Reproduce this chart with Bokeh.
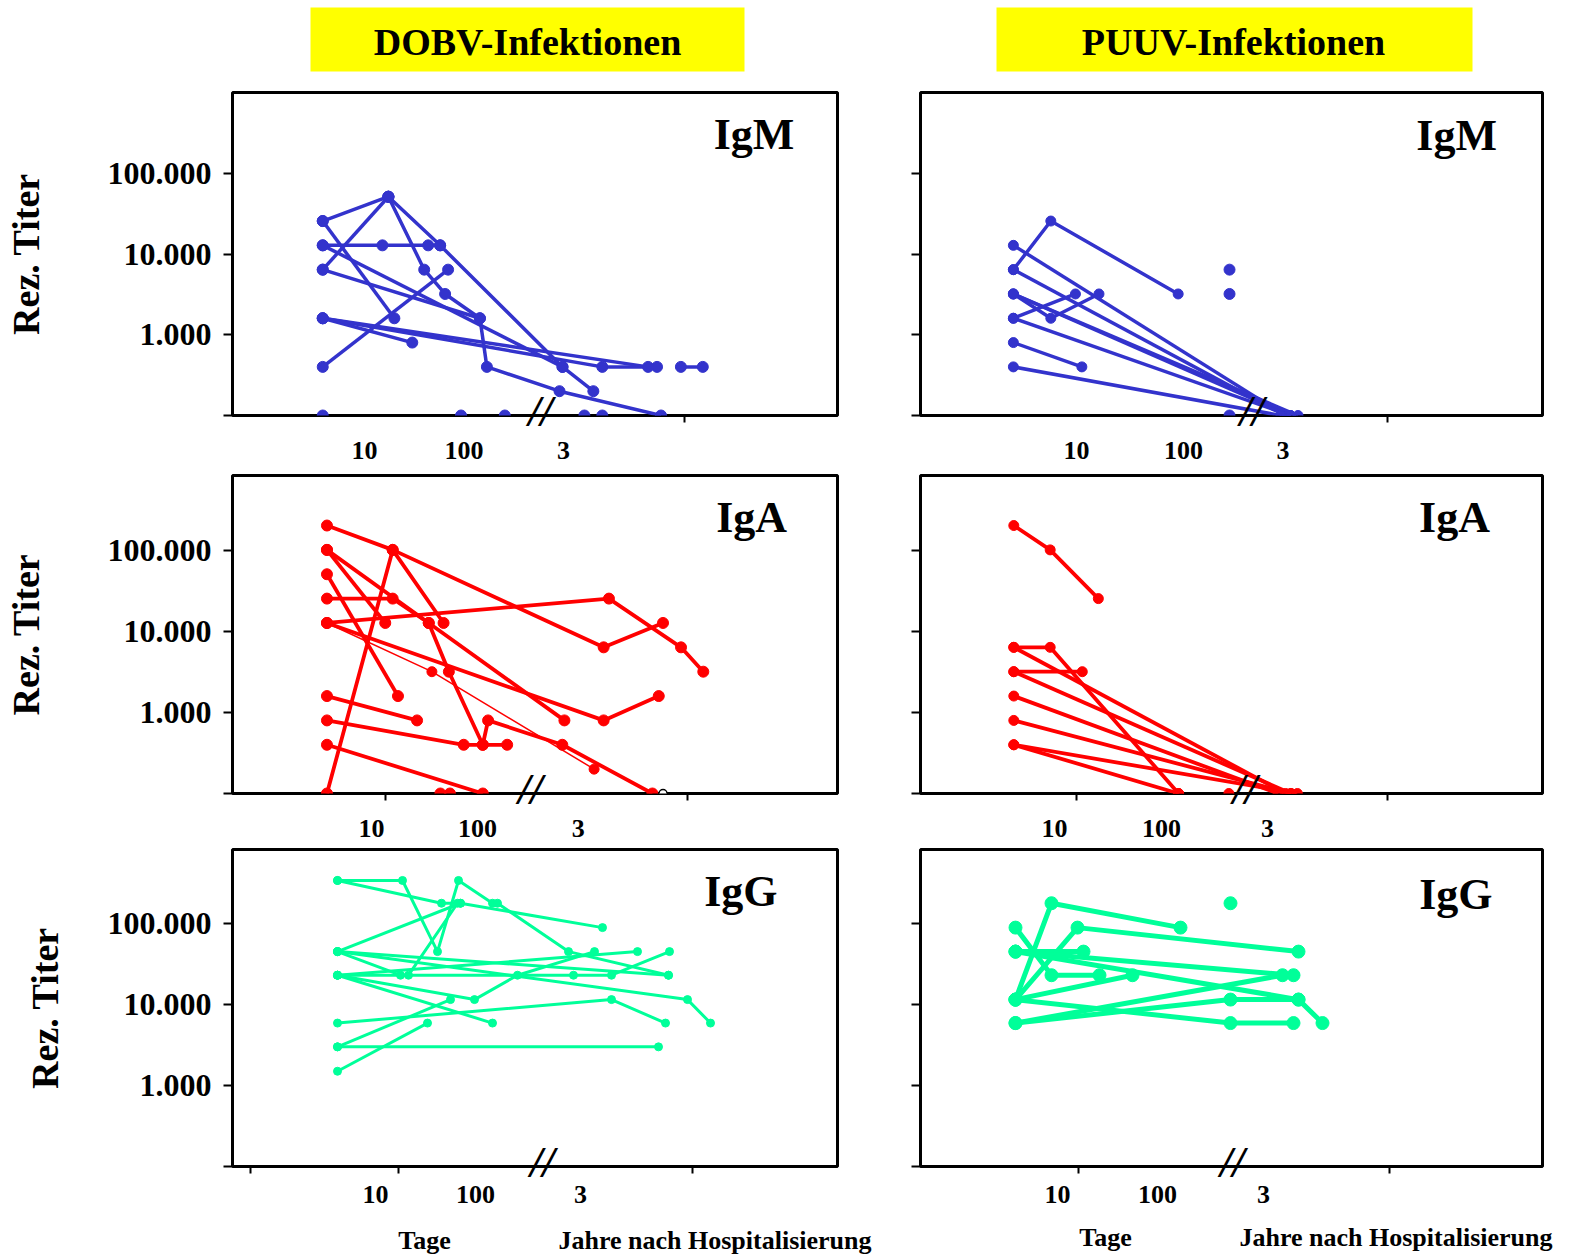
from bokeh.plotting import figure
from bokeh.models import Range1d, FixedTicker, Label, LinearAxis
from bokeh.layouts import column, row
from bokeh.embed import file_html
from bokeh.resources import INLINE
from bokeh.core.properties import value

FONT = "Liberation Serif"
BLUE = "#3333CC"
RED = "#FF0000"
GREEN = "#00FF99"

# ---------------- data (x: time-axis position, 10 d = 1, 100 d = 2, "3" Jahre ~ 3) ----------------
titles = ["DOBV-Infektionen", "PUUV-Infektionen"]
x_tick_labels = ["10", "100", "3"]
y_tick_values = [100, 1000, 10000, 100000]
y_tick_labels = ["", "1.000", "10.000", "100.000"]
footer_labels = ["Tage", "Jahre nach Hospitalisierung"]

dobv_igm_x = [
    [0.58, 1.24], [0.58, 1.30], [0.58, 1.18, 1.64, 1.76], [0.58, 2.99],
    [0.58, 1.24], [0.58, 2.16], [0.58, 1.48], [0.58, 3.39, 3.94], [0.58, 3.85],
    [0.58, 1.84], [1.24, 1.60, 1.81, 2.16, 2.23, 2.96, 3.98],
    [1.24, 1.76, 2.99, 3.30], [4.18, 4.40],
]
dobv_igm_y = [
    [25600, 51200], [25600, 1600], [12800, 12800, 12800, 12800], [12800, 400],
    [6400, 51200], [6400, 1600], [1600, 800], [1600, 400, 400], [1600, 400],
    [400, 6400], [51200, 6400, 3200, 1600, 400, 200, 100],
    [51200, 12800, 400, 200], [400, 400],
]
dobv_igm_neg_x = [0.58, 1.97, 2.41, 3.21, 3.39]
dobv_igm_neg_y = [100, 100, 100, 100, 100]

puuv_igm_x = [
    [0.41, 0.76, 1.95], [0.41, 2.95], [0.41, 2.95], [0.41, 0.76, 1.21],
    [0.41, 3.00], [0.41, 3.07], [0.41, 0.99], [0.41, 3.00], [0.41, 1.05], [0.41, 2.91],
]
puuv_igm_y = [
    [6400, 25600, 3200], [12800, 100], [6400, 100], [3200, 1600, 3200],
    [3200, 100], [3200, 100], [1600, 3200], [1600, 100], [800, 400], [400, 100],
]
puuv_igm_single_x = [2.43, 2.43, 2.43]
puuv_igm_single_y = [6400, 3200, 100]

dobv_iga_x = [
    [0.58, 1.20, 3.19, 3.75], [0.58, 3.24, 3.92, 4.13], [0.58, 1.20, 1.68],
    [0.58, 1.13], [0.58, 1.54, 1.73, 2.05, 2.10, 2.80, 3.65],
    [0.58, 1.20, 1.54, 2.82], [0.58, 1.25], [0.58, 3.19, 3.71], [0.58, 1.43],
    [0.58, 1.87, 2.05, 2.28], [0.58, 2.05],
]
dobv_iga_y = [
    [204800, 102400, 6400, 12800], [12800, 25600, 6400, 3200], [100, 102400, 12800],
    [102400, 12800], [102400, 12800, 3200, 400, 800, 400, 100],
    [25600, 25600, 12800, 800], [51200, 1600], [12800, 800, 1600], [1600, 800],
    [800, 400, 400, 400], [400, 100],
]
dobv_iga_thin_x = [0.58, 1.57, 3.10]
dobv_iga_thin_y = [12800, 3200, 200]
dobv_iga_neg_x = [1.65, 1.74]
dobv_iga_neg_y = [100, 100]
dobv_iga_open_x = [3.75]
dobv_iga_open_y = [100]

puuv_iga_x = [
    [0.62, 0.96, 1.41], [0.62, 0.96, 2.16], [0.62, 3.16], [0.62, 1.26],
    [0.62, 3.21], [0.62, 3.09], [0.62, 3.21], [0.62, 2.16], [0.62, 3.27],
]
puuv_iga_y = [
    [204800, 102400, 25600], [6400, 6400, 100], [6400, 100], [3200, 3200],
    [3200, 100], [1600, 100], [800, 100], [400, 100], [400, 100],
]
puuv_iga_single_x = [2.63]
puuv_iga_single_y = [100]

dobv_igg_x = [
    [0.62, 1.27, 1.62, 1.83, 2.17, 2.22, 2.93, 3.93], [0.62, 1.66, 1.85, 3.27],
    [0.62, 1.85], [0.62, 1.25, 1.33, 1.82], [0.62, 3.93], [0.62, 4.12, 4.35],
    [0.62, 2.98, 3.36, 3.94], [0.62, 3.62], [0.62, 1.99, 2.42, 3.19],
    [0.62, 2.17], [0.62, 3.36, 3.90], [0.62, 1.75], [0.62, 3.83], [0.62, 1.52],
]
dobv_igg_y = [
    [340000, 340000, 45000, 340000, 178000, 178000, 45000, 23000],
    [340000, 178000, 178000, 89000], [45000, 178000], [45000, 23000, 23000, 178000],
    [45000, 23000], [45000, 11500, 5900], [23000, 23000, 23000, 45000],
    [23000, 45000], [23000, 11500, 23000, 45000], [23000, 5900],
    [5900, 11500, 5900], [3000, 11500], [3000, 3000], [1500, 5900],
]

puuv_igg_x = [
    [0.58, 0.94, 2.23], [0.58, 0.94, 1.42], [0.58, 1.20, 3.41], [0.58, 1.26],
    [0.58, 3.36], [0.58, 3.41, 3.65], [0.58, 1.75], [0.58, 2.73, 3.36],
    [0.58, 3.25], [0.58, 2.73, 3.41],
]
puuv_igg_y = [
    [11500, 178000, 89000], [89000, 23000, 23000], [11500, 89000, 45000],
    [45000, 45000], [45000, 23000], [45000, 11500, 5900], [11500, 23000],
    [11500, 5900, 5900], [5900, 23000], [5900, 11500, 11500],
]
puuv_igg_single_x = [2.73]
puuv_igg_single_y = [178000]

# ---------------- layout / style ----------------
COL_W = [867, 695]
BORDER_L = [232, 53]
BORDER_R = [30, 20]
ROWS = [
    dict(name="IgM", height=387, top=12, bottom=52, ymax=1e6, bstd=-36, xstd=3, ystd=58),
    dict(name="IgA", height=378, top=8, bottom=52, ymax=8.5e5, bstd=-36, xstd=3, ystd=58),
    dict(name="IgG", height=369, top=4, bottom=48, ymax=8.2e5, bstd=-36, xstd=-4, ystd=39),
]


def bold_font(obj, prefix, size):
    setattr(obj, prefix + "_text_font", FONT)
    setattr(obj, prefix + "_text_font_size", size)
    setattr(obj, prefix + "_text_font_style", "bold")
    setattr(obj, prefix + "_text_color", "black")


def make_panel(col, r, xs, ys, color, lw, ms, cfg):
    rr = ROWS[r]
    p = figure(width=COL_W[col], height=rr["height"],
               x_range=Range1d(cfg["x0"], cfg["x1"]),
               y_range=Range1d(100, rr["ymax"]), y_axis_type="log",
               output_backend="svg", toolbar_location=None,
               min_border_left=BORDER_L[col], min_border_right=BORDER_R[col],
               min_border_top=rr["top"], min_border_bottom=rr["bottom"])
    p.grid.visible = False
    p.background_fill_color = "white"
    p.border_fill_color = "white"
    p.outline_line_color = "black"
    p.outline_line_width = 3
    p.outline_line_alpha = 1.0

    for x, y in zip(xs, ys):
        p.line(x, y, line_color=color, line_width=lw)
        p.scatter(x, y, size=ms, fill_color=color, line_color=color)

    # first x axis: tick marks and the "//" axis break
    xa = p.xaxis[0]
    xa.ticker = FixedTicker(ticks=[cfg["brk"]], minor_ticks=cfg["minor"])
    xa.major_label_overrides = {cfg["brk"]: "//"}
    xa.axis_line_color = None
    xa.major_tick_line_color = None
    xa.major_tick_out = 0
    xa.major_tick_in = 0
    xa.minor_tick_line_color = "black"
    xa.minor_tick_line_width = 2
    xa.minor_tick_out = 7
    xa.minor_tick_in = 0
    bold_font(xa, "major_label", "44px")
    xa.major_label_text_font_style = "bold italic"
    xa.major_label_standoff = rr["bstd"]

    # second x axis: the time labels
    xb = LinearAxis(ticker=FixedTicker(ticks=[1, 2, cfg["p3"]], minor_ticks=[]))
    xb.major_label_overrides = {1: x_tick_labels[0], 2: x_tick_labels[1], cfg["p3"]: x_tick_labels[2]}
    xb.axis_line_color = None
    xb.major_tick_line_color = None
    xb.minor_tick_line_color = None
    xb.major_tick_out = 0
    xb.major_tick_in = 0
    xb.minor_tick_out = 0
    xb.minor_tick_in = 0
    bold_font(xb, "major_label", "26px")
    xb.major_label_standoff = rr["xstd"]
    p.add_layout(xb, "below")

    ya = p.yaxis[0]
    ya.ticker = FixedTicker(ticks=y_tick_values, minor_ticks=[])
    if col == 0:
        ya.major_label_overrides = dict(zip(y_tick_values, y_tick_labels))
        ya.axis_label = "Rez. Titer"
        bold_font(ya, "axis_label", "38px")
        ya.axis_label_standoff = rr["ystd"]
    else:
        ya.major_label_overrides = {v: "" for v in y_tick_values}
    ya.axis_line_color = None
    ya.major_tick_line_color = "black"
    ya.major_tick_line_width = 2
    ya.major_tick_out = 9
    ya.major_tick_in = 0
    ya.minor_tick_line_color = None
    ya.major_label_standoff = 12
    bold_font(ya, "major_label", "32px")

    p.add_layout(Label(x=cfg["lx"], y=cfg["ly"], text=rr["name"], text_font=FONT,
                       text_font_size="44px", text_font_style="bold",
                       text_align="right", text_baseline="alphabetic", text_color="black"))
    return p


cfg_dm = dict(x0=-0.327, x1=5.754, p3=3.0, brk=2.77, minor=[4.22], lx=5.32, ly=300000)
cfg_pm = dict(x0=-0.458, x1=5.355, p3=2.93, brk=2.64, minor=[3.91], lx=4.93, ly=294000)
cfg_da = dict(x0=-0.311, x1=5.396, p3=2.95, brk=2.50, minor=[1.13, 3.98], lx=4.92, ly=256000)
cfg_pa = dict(x0=-0.252, x1=5.561, p3=2.99, brk=2.78, minor=[1.21, 4.11], lx=5.07, ly=256000)
cfg_dg = dict(x0=-0.43, x1=5.62, p3=3.05, brk=2.67, minor=[-0.25, 1.23, 4.17], lx=5.02, ly=250000)
cfg_pg = dict(x0=-0.37, x1=5.85, p3=3.06, brk=2.75, minor=[1.21, 4.32], lx=5.35, ly=229000)

p_dm = make_panel(0, 0, dobv_igm_x, dobv_igm_y, BLUE, 3.5, 11, cfg_dm)
p_dm.scatter(dobv_igm_neg_x, dobv_igm_neg_y, size=11, color=BLUE)

p_pm = make_panel(1, 0, puuv_igm_x, puuv_igm_y, BLUE, 3.5, 10, cfg_pm)
p_pm.scatter(puuv_igm_single_x, puuv_igm_single_y, size=11, color=BLUE)

p_da = make_panel(0, 1, dobv_iga_x, dobv_iga_y, RED, 3.8, 11, cfg_da)
p_da.line(dobv_iga_thin_x, dobv_iga_thin_y, line_color=RED, line_width=1.5)
p_da.scatter(dobv_iga_thin_x, dobv_iga_thin_y, size=10, color=RED)
p_da.scatter(dobv_iga_neg_x, dobv_iga_neg_y, size=11, color=RED)
p_da.scatter(dobv_iga_open_x, dobv_iga_open_y, size=8, fill_color="white", line_color="black", line_width=1.5)

p_pa = make_panel(1, 1, puuv_iga_x, puuv_iga_y, RED, 3.8, 10, cfg_pa)
p_pa.scatter(puuv_iga_single_x, puuv_iga_single_y, size=10, color=RED)

p_dg = make_panel(0, 2, dobv_igg_x, dobv_igg_y, GREEN, 3, 8, cfg_dg)
p_pg = make_panel(1, 2, puuv_igg_x, puuv_igg_y, GREEN, 5, 13, cfg_pg)
p_pg.scatter(puuv_igg_single_x, puuv_igg_single_y, size=13, color=GREEN)

# header with the two yellow title boxes (page pixel coordinates)
head = figure(width=1562, height=80, x_range=Range1d(0, 1562), y_range=Range1d(80, 0),
              output_backend="svg", toolbar_location=None,
              x_axis_location=None, y_axis_location=None,
              min_border_left=0, min_border_right=0, min_border_top=0, min_border_bottom=0)
head.grid.visible = False
head.outline_line_color = None
head.background_fill_color = "white"
head.border_fill_color = "white"
head.quad(left=[310, 996], right=[744, 1472], top=[7, 7], bottom=[71, 71],
          fill_color="#FFFF00", line_color=None)
head.text(x=[527, 1233], y=[41, 41], text=titles, text_font=value(FONT),
          text_font_size="38px", text_font_style="bold", text_align="center",
          text_baseline="middle", text_color="black")

# footer with the time-axis captions (page pixel coordinates)
foot = figure(width=1562, height=40, x_range=Range1d(0, 1562), y_range=Range1d(1254, 1214),
              output_backend="svg", toolbar_location=None,
              x_axis_location=None, y_axis_location=None,
              min_border_left=0, min_border_right=0, min_border_top=0, min_border_bottom=0)
foot.grid.visible = False
foot.outline_line_color = None
foot.background_fill_color = "white"
foot.border_fill_color = "white"
foot.text(x=[424, 1105], y=[1240, 1237], text=[footer_labels[0], footer_labels[0]],
          text_font=value(FONT), text_font_size="26px", text_font_style="bold",
          text_align="center", text_baseline="middle", text_color="black")
foot.text(x=[558, 1239], y=[1240, 1237], text=[footer_labels[1], footer_labels[1]],
          text_font=value(FONT), text_font_size="26px", text_font_style="bold",
          text_align="left", text_baseline="middle", text_color="black")

layout = column(head, row(p_dm, p_pm), row(p_da, p_pa), row(p_dg, p_pg), foot)
open("out.html", "w").write(file_html(layout, INLINE))
